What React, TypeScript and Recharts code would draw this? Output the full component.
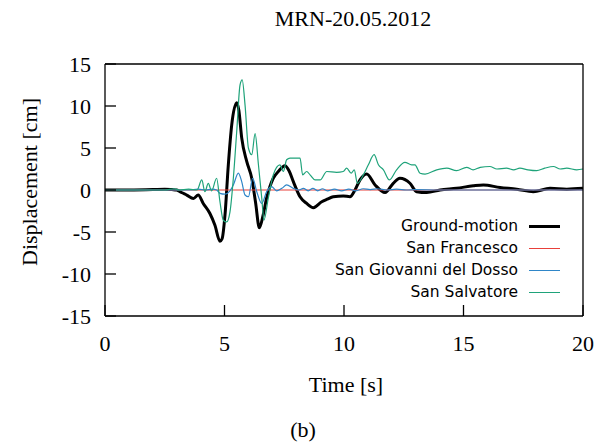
import React from 'react';
import { LineChart, Line, XAxis, YAxis } from 'recharts';

// time [s] / displacement [cm]
const groundTime = [0, 1, 2, 2.5, 2.8, 3, 3.2, 3.42, 3.7, 3.9, 4.11, 4.39, 4.6, 4.81, 4.9, 5.02, 5.16, 5.3, 5.51, 5.6, 5.72, 5.93, 6.14, 6.3, 6.46, 6.6, 6.76, 7.04, 7.25, 7.53, 7.7, 7.88, 8.16, 8.44, 8.72, 9.07, 9.3, 9.55, 9.97, 10.25, 10.46, 10.67, 10.95, 11.3, 11.72, 12.06, 12.34, 12.76, 13.04, 13.46, 14.02, 14.71, 15.41, 15.83, 16.53, 17.23, 17.92, 18.62, 19.32, 20];
const groundMotion = [0, 0, 0.05, 0.1, 0.05, 0, -0.3, -0.6, -1.0, -0.6, -1.6, -2.8, -4.2, -6.1, -5.8, -3.0, 3.0, 7.7, 10.4, 9.5, 6.2, 3.4, 1.4, -1.5, -4.5, -3.2, -1.0, 1.4, 2.2, 2.9, 2.3, 1.0, -0.8, -1.6, -2.1, -1.4, -1.1, -0.8, -0.7, -0.8, 0, 1.2, 1.9, 0.6, -0.3, 0.8, 1.4, 0.8, -0.2, -0.3, 0, 0.2, 0.5, 0.6, 0.3, 0.1, -0.2, 0.2, 0.1, 0.2];

const francescoTime = [0, 5, 10, 15, 20];
const sanFrancesco = [0, 0, 0, 0, 0];

const giovanniTime = [0, 3.5, 3.9, 4.2, 4.5, 4.67, 4.81, 5.02, 5.23, 5.37, 5.58, 5.72, 5.86, 6.0, 6.18, 6.35, 6.56, 6.76, 6.97, 7.18, 7.4, 7.6, 7.88, 8.1, 8.3, 8.5, 8.7, 8.9, 9.1, 9.3, 9.6, 9.9, 10.2, 10.5, 10.8, 11.1, 11.4, 11.8, 12.2, 12.6, 13, 14, 20];
const sanGiovanni = [0, 0, 0.1, 0, 0.1, 0, -0.4, -0.5, -0.1, 0.6, 2.0, 1.0, -0.6, -0.8, 1.4, -0.2, -1.6, -0.2, 0.4, -0.1, 0.2, 0.6, 0.2, 0, 0.2, -0.1, 0.2, -0.1, 0.15, -0.1, 0.1, -0.1, 0.1, -0.1, 0.15, 0.05, 0.15, 0, 0.1, 0, 0.05, 0, 0];

const salvatoreTime = [0, 2.5, 2.9, 3.1, 3.5, 3.85, 4.05, 4.18, 4.32, 4.46, 4.67, 4.81, 4.95, 5.09, 5.23, 5.37, 5.51, 5.65, 5.74, 5.86, 6.0, 6.14, 6.28, 6.42, 6.56, 6.65, 6.83, 7.04, 7.32, 7.46, 7.6, 7.74, 8.16, 8.27, 8.44, 8.58, 8.79, 9.0, 9.28, 9.69, 9.97, 10.11, 10.3, 10.43, 10.56, 10.81, 11.02, 11.26, 11.44, 11.65, 11.9, 12.2, 12.55, 12.83, 12.97, 13.18, 13.39, 13.88, 14.3, 14.71, 15.13, 15.4, 15.7, 16.1, 16.4, 16.8, 17.1, 17.36, 17.7, 18.06, 18.4, 18.76, 19.05, 19.32, 19.74, 20];
const sanSalvatore = [0, 0, 0.15, 0, 0.1, 0, 1.2, -0.2, 0.8, -0.1, 1.4, -1.4, -3.6, -3.8, -2.6, 1.4, 6.9, 12.5, 13.1, 10.1, 5.0, 4.2, 6.7, 3.0, -1.0, -3.6, -1.0, 1.8, 3.0, 2.2, 3.6, 3.8, 3.8, 1.8, 2.2, 1.8, 1.2, 1.2, 2.2, 2.1, 2.2, 2.6, 2.0, 2.4, 0.8, 1.8, 3.0, 4.2, 3.0, 2.4, 1.2, 2.4, 3.3, 3.0, 3.0, 2.0, 1.9, 2.4, 2.6, 2.3, 2.7, 2.4, 2.7, 2.8, 2.5, 2.6, 2.4, 2.6, 2.4, 2.3, 2.6, 2.8, 2.5, 2.6, 2.4, 2.5];

const xTicks = [0, 5, 10, 15, 20];
const yTicks = [-15, -10, -5, 0, 5, 10, 15];

const toPoints = (t: number[], v: number[]) => t.map((time, i) => ({ time, value: v[i] }));

const series = [
  { name: 'Ground-motion', color: '#000000', width: 3, data: toPoints(groundTime, groundMotion) },
  { name: 'San Francesco', color: '#e8403a', width: 1.2, data: toPoints(francescoTime, sanFrancesco) },
  { name: 'San Giovanni del Dosso', color: '#2f86c8', width: 1.2, data: toPoints(giovanniTime, sanGiovanni) },
  { name: 'San Salvatore', color: '#1fa37a', width: 1.2, data: toPoints(salvatoreTime, sanSalvatore) },
];

const serif = '"Liberation Serif", "Times New Roman", serif';
const tickTextStyle = { fontFamily: serif, fontSize: 22, fill: '#000' };

// gnuplot-like serif tick labels
const XTick = (props: any) => {
  const { x, y, payload } = props;
  return (
    <text x={x} y={y + 15} textAnchor="middle" style={tickTextStyle}>
      {payload.value}
    </text>
  );
};

const YTick = (props: any) => {
  const { x, y, payload } = props;
  return (
    <text x={x} y={y + 7.5} textAnchor="end" style={tickTextStyle}>
      {payload.value}
    </text>
  );
};

const LegendBox = () => (
  <div
    style={{
      position: 'absolute',
      right: 46,
      top: 215,
      fontFamily: '"DejaVu Sans", sans-serif',
      fontSize: 15.5,
      color: '#000',
    }}
  >
    {series.map((s) => (
      <div key={s.name} style={{ display: 'flex', alignItems: 'center', justifyContent: 'flex-end', height: 22 }}>
        <span style={{ whiteSpace: 'nowrap' }}>{s.name}</span>
        <span
          style={{
            display: 'inline-block',
            width: 31,
            height: 0,
            marginLeft: 11,
            borderTop: `${s.width === 3 ? 3 : 1.5}px solid ${s.color}`,
          }}
        />
      </div>
    ))}
  </div>
);

export default function App() {
  return (
    <div style={{ position: 'absolute', left: 0, top: 0, width: 606, height: 448, background: '#fff', fontFamily: serif }}>
      <div style={{ position: 'absolute', left: 0, width: 706, top: 6, textAlign: 'center', fontSize: 22, lineHeight: '26px' }}>
        MRN-20.05.2012
      </div>
      <LineChart
        width={606}
        height={448}
        margin={{ top: 63, right: 22, bottom: 92, left: 45 }}
        style={{ fontFamily: serif }}
      >
        <XAxis
          dataKey="time"
          type="number"
          domain={[0, 20]}
          ticks={xTicks}
          interval={0}
          allowDataOverflow
          height={40}
          stroke="#000"
          strokeWidth={1.3}
          tickSize={-11}
          tickMargin={31}
          tick={XTick}
        />
        <XAxis
          xAxisId="top"
          orientation="top"
          type="number"
          domain={[0, 20]}
          ticks={xTicks}
          interval={0}
          height={1}
          stroke="#000"
          strokeWidth={1.3}
          tickSize={-11}
          tickFormatter={() => ''}
        />
        <YAxis
          type="number"
          domain={[-15, 15]}
          ticks={yTicks}
          interval={0}
          allowDataOverflow
          width={60}
          stroke="#000"
          strokeWidth={1.3}
          tickSize={-11}
          tickMargin={25}
          tick={YTick}
        />
        <YAxis
          yAxisId="right"
          orientation="right"
          type="number"
          domain={[-15, 15]}
          ticks={yTicks}
          interval={0}
          width={1}
          stroke="#000"
          strokeWidth={1.3}
          tickSize={-11}
          tickFormatter={() => ''}
        />
        {series.map((s) => (
          <Line
            key={s.name}
            data={s.data}
            dataKey="value"
            name={s.name}
            type="monotone"
            stroke={s.color}
            strokeWidth={s.width}
            dot={false}
            activeDot={false}
            isAnimationActive={false}
          />
        ))}
      </LineChart>
      <LegendBox />
      <div style={{ position: 'absolute', left: 0, width: 692, top: 372, textAlign: 'center', fontSize: 22, lineHeight: '26px' }}>
        Time [s]
      </div>
      <div style={{ position: 'absolute', left: 0, width: 606, top: 417, textAlign: 'center', fontSize: 22, lineHeight: '26px' }}>
        (b)
      </div>
      <div style={{ position: 'absolute', left: 30, top: 182, width: 0, height: 0 }}>
        <div
          style={{
            position: 'absolute',
            left: 0,
            top: 0,
            transform: 'translate(-50%, -50%) rotate(-90deg)',
            whiteSpace: 'nowrap',
            fontSize: 22,
            lineHeight: '26px',
          }}
        >
          Displacement [cm]
        </div>
      </div>
    </div>
  );
}
